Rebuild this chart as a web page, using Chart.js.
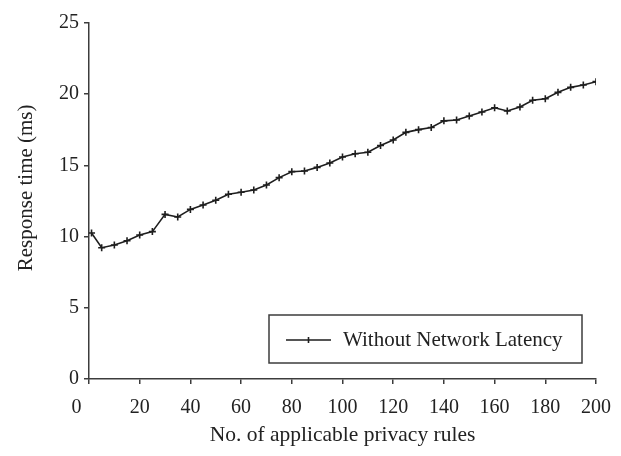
<!DOCTYPE html>
<html>
<head>
<meta charset="utf-8">
<script src="https://cdn.jsdelivr.net/npm/chart.js@4/dist/chart.umd.min.js"></script>
<style>
  html, body { margin: 0; padding: 0; background: #ffffff; }
  #wrap { width: 621px; height: 456px; }
</style>
</head>
<body>
<div id="wrap"><canvas id="c" width="621" height="456"></canvas></div>
<script>
// ---- data ----
const ruleCounts = [1, 5, 10, 15, 20, 25, 30, 35, 40, 45, 50, 55, 60, 65, 70, 75, 80, 85, 90, 95, 100,
  105, 110, 115, 120, 125, 130, 135, 140, 145, 150, 155, 160, 165, 170, 175, 180, 185, 190, 195, 200];
const responseTimes = [10.25, 9.22, 9.41, 9.71, 10.11, 10.35, 11.56, 11.38, 11.91, 12.22, 12.55, 12.97, 13.11, 13.27,
  13.62, 14.14, 14.56, 14.61, 14.86, 15.17, 15.59, 15.82, 15.92, 16.40, 16.78, 17.32, 17.51, 17.66, 18.13, 18.19,
  18.47, 18.75, 19.05, 18.82, 19.10, 19.57, 19.68, 20.13, 20.48, 20.65, 20.88];
const seriesLabel = 'Without Network Latency';
const xTitle = 'No. of applicable privacy rules';
const yTitle = 'Response time (ms)';
const xTickMin = 0, xTickMax = 200, xTickStep = 20;
const yTickMin = 0, yTickMax = 25, yTickStep = 5;

const points = ruleCounts.map((x, i) => ({ x: x, y: responseTimes[i] }));

const FONT = "'Liberation Serif', 'Times New Roman', serif";
const TEXT = '#222222';
const AXIS = '#3c3c3c';

// legend box drawn inside the plot area
const legendBoxPlugin = {
  id: 'legendBox',
  afterDraw(chart) {
    const ctx = chart.ctx;
    const ds = chart.data.datasets[0];
    const bx = 269, by = 315, bw = 313, bh = 48;
    ctx.save();
    ctx.fillStyle = '#ffffff';
    ctx.fillRect(bx, by, bw, bh);
    ctx.strokeStyle = AXIS;
    ctx.lineWidth = 1.5;
    ctx.strokeRect(bx, by, bw, bh);
    const ly = by + 25;
    ctx.strokeStyle = ds.borderColor;
    ctx.lineWidth = ds.borderWidth;
    ctx.beginPath();
    ctx.moveTo(286, ly); ctx.lineTo(331, ly);
    ctx.moveTo(308.5, ly - 3); ctx.lineTo(308.5, ly + 3);
    ctx.stroke();
    ctx.fillStyle = TEXT;
    ctx.font = "21px " + FONT;
    ctx.textBaseline = 'middle';
    ctx.textAlign = 'left';
    ctx.fillText(ds.label, 343, ly);
    ctx.restore();
  }
};

new Chart(document.getElementById('c'), {
  type: 'line',
  data: {
    datasets: [{
      label: seriesLabel,
      data: points,
      borderColor: '#1e1e1e',
      backgroundColor: '#1e1e1e',
      borderWidth: 1.6,
      pointStyle: 'cross',
      pointRadius: 3.5,
      pointBorderWidth: 1.6,
      pointBorderColor: '#1e1e1e',
      tension: 0,
      fill: false
    }]
  },
  options: {
    responsive: false,
    animation: false,
    devicePixelRatio: 1,
    layout: { padding: { left: 0, right: 25, top: 23, bottom: 0 } },
    plugins: {
      legend: { display: false },
      tooltip: { enabled: false }
    },
    scales: {
      x: {
        type: 'linear',
        min: xTickMin, max: xTickMax,
        afterFit(scale) { scale.height = 77; scale.paddingRight = 0; scale.paddingLeft = 0; },
        border: { display: true, color: AXIS, width: 1.5 },
        grid: { drawOnChartArea: false, drawTicks: true, tickLength: 5, color: AXIS, lineWidth: 1.5 },
        ticks: {
          stepSize: xTickStep,
          padding: 12,
          color: TEXT,
          font: { family: FONT, size: 20 },
          maxRotation: 0,
          callback: (v) => (v === 0 ? '0     ' : String(v))
        },
        title: {
          display: true, text: xTitle, color: TEXT,
          font: { family: FONT, size: 21.5 },
          padding: { top: 0, bottom: 8 }
        }
      },
      y: {
        min: yTickMin, max: yTickMax,
        afterFit(scale) { scale.width = 89; },
        border: { display: true, color: AXIS, width: 1.5 },
        grid: { drawOnChartArea: false, drawTicks: true, tickLength: 5, color: AXIS, lineWidth: 1.5 },
        ticks: {
          stepSize: yTickStep,
          padding: 5,
          color: TEXT,
          font: { family: FONT, size: 20 }
        },
        title: {
          display: true, text: '     ' + yTitle, color: TEXT,
          font: { family: FONT, size: 21 },
          padding: { top: 14, bottom: 0 }
        }
      }
    }
  },
  plugins: [legendBoxPlugin]
});
</script>
</body>
</html>
